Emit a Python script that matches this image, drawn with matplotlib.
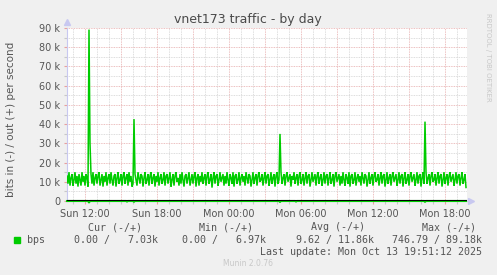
import matplotlib
matplotlib.use("Agg")
import matplotlib.pyplot as plt
import numpy as np

# ---- data (out traffic in kbit/s, one value per 5 minutes) ----
start_hour = 10 + 31 / 60.0   # Sun 10:31
step_hours = 5 / 60.0
out_kbps = [
    13, 9, 15, 8, 12, 14, 8, 11, 15, 9, 13, 7.5, 14, 11, 8, 15, 10, 13, 8, 14,
    12, 7.5, 89.18, 30, 14, 9, 15, 8, 12, 14, 9, 13, 15, 8, 11, 14, 7.5, 13, 10, 15,
    8, 12, 14, 9, 15, 11, 8, 13, 14, 7.5, 12, 15, 9, 11, 14, 8, 13, 15, 9, 12,
    14, 8, 15, 10, 13, 7.5, 9, 42.6, 14, 11, 8, 15, 12, 9, 14, 13, 7.5, 12, 15, 9,
    11, 14, 8, 13, 15, 9, 12, 14, 7.5, 13, 10, 15, 8, 12, 14, 9, 11, 15, 8, 13,
    14, 9, 12, 15, 7.5, 11, 14, 8, 13, 15, 10, 12, 8, 14, 9, 15, 11, 7.5, 13, 14,
    9, 12, 15, 8, 11, 14, 9, 13, 15, 7.5, 12, 14, 8, 13, 10, 15, 9, 12, 14, 8,
    13, 15, 9, 11, 14, 6.97, 12, 15, 9, 13, 14, 8, 11, 15, 10, 12, 14, 8, 13, 9,
    15, 11, 8, 14, 12, 9, 15, 7.5, 13, 14, 9, 11, 15, 8, 12, 14, 10, 13, 8, 15,
    12, 9, 14, 13, 7.5, 11, 15, 9, 12, 14, 8, 13, 15, 10, 11, 14, 8, 12, 15, 9,
    13, 14, 8, 11, 15, 9, 12, 14, 7.5, 13, 15, 9, 11, 34.9, 15, 9, 12, 14, 8, 13,
    15, 10, 12, 14, 7.5, 13, 11, 15, 9, 12, 14, 8, 13, 15, 9, 11, 14, 8, 12, 15,
    9, 13, 14, 7.5, 11, 15, 10, 12, 14, 8, 13, 15, 9, 12, 14, 8, 11, 15, 9, 13,
    14, 8, 12, 15, 9, 11, 14, 7.5, 13, 15, 10, 12, 14, 8, 13, 9, 15, 11, 8, 14,
    12, 9, 15, 7.5, 13, 14, 9, 11, 15, 8, 12, 14, 10, 13, 8, 15, 12, 9, 14, 13,
    7.5, 11, 15, 9, 12, 14, 8, 13, 15, 10, 11, 14, 8, 12, 15, 9, 13, 14, 7.5, 11,
    15, 9, 12, 14, 8, 13, 15, 10, 12, 14, 8, 11, 15, 9, 13, 14, 7.5, 12, 15, 9,
    11, 14, 8, 13, 15, 10, 12, 14, 8, 11, 15, 9, 13, 14, 7.5, 12, 15, 9, 41.3, 15,
    9, 12, 14, 8, 13, 15, 10, 11, 14, 8, 12, 15, 9, 13, 14, 7.5, 11, 15, 9, 12,
    14, 8, 13, 15, 10, 12, 14, 8, 11, 15, 9, 13, 14, 8, 12, 15, 9, 11, 14, 7.03,
]
# in traffic (drawn negative), bit/s, only non-zero samples
in_index = [22, 60, 67, 213, 229, 358]
in_bps = [746.79, 300, 400, 500, 300, 450]

xtick_hours = [12, 18, 24, 30, 36, 42]
xtick_labels = ["Sun 12:00", "Sun 18:00", "Mon 00:00", "Mon 06:00", "Mon 12:00", "Mon 18:00"]
ytick_values = [0, 10000, 20000, 30000, 40000, 50000, 60000, 70000, 80000, 90000]
ytick_labels = ["0", "10 k", "20 k", "30 k", "40 k", "50 k", "60 k", "70 k", "80 k", "90 k"]

legend_headers = ["Cur (-/+)", "Min (-/+)", "Avg (-/+)", "Max (-/+)"]
legend_values = ["0.00 /   7.03k", "0.00 /   6.97k", "9.62 / 11.86k", "746.79 / 89.18k"]

# ---- figure ----
W, H = 497, 275
BG = "#F0F0F0"
GREEN = "#00CC00"
fig = plt.figure(figsize=(W / 100, H / 100), dpi=100, facecolor=BG)
ax = fig.add_axes([67 / W, (H - 201) / H, 400 / W, 173 / H])
ax.set_facecolor("white")

n = len(out_kbps)
x = start_hour + np.arange(n) * step_hours
out = np.array(out_kbps) * 1000.0
inn = np.zeros(n)
inn[in_index] = -np.array(in_bps)

ax.set_xlim(start_hour, start_hour + n * step_hours)
ax.set_ylim(0, 90000)

ax.set_xticks(xtick_hours)
ax.set_xticklabels(xtick_labels)
ax.set_xticks(np.arange(11, 44, 1), minor=True)
ax.set_yticks(ytick_values)
ax.set_yticklabels(ytick_labels)
ax.set_yticks(np.arange(5000, 90000, 10000), minor=True)

dot = (0, (1, 1))
for h in np.arange(11, 44, 1):
    major = (h % 3 == 0)
    ax.axvline(h, color="#E6AAAA" if major else "#D2D2D2", lw=0.6, ls=dot, zorder=1)
for v in np.arange(5000, 90001, 5000):
    major = (v % 10000 == 0)
    ax.axhline(v, color="#E6AAAA" if major else "#D2D2D2", lw=0.6, ls=dot, zorder=1)

ax.plot(x, out, color=GREEN, lw=1.1, zorder=3, solid_joinstyle="miter")
ax.plot(x, inn, color=GREEN, lw=1.5, zorder=3, clip_on=False)
ax.axhline(0, color="black", lw=1.5, zorder=4)

for s in ["top", "right"]:
    ax.spines[s].set_visible(False)
ax.spines["left"].set_color("#C8C8F0")
ax.spines["bottom"].set_color("#C8C8F0")
ax.spines["left"].set_linewidth(0.8)
ax.spines["bottom"].set_linewidth(0.8)
ax.plot([0], [1.035], marker="^", ms=4, color="#C8C8F0", transform=ax.transAxes, clip_on=False)
ax.plot([1.01], [0], marker=">", ms=4, color="#C8C8F0", transform=ax.transAxes, clip_on=False)

ax.tick_params(axis="both", which="major", length=2, width=0.8, color="#E8A0A0",
               labelsize=7, labelcolor="#555555", pad=3)
ax.tick_params(axis="both", which="minor", length=2, width=0.8, color="#C8C8C8")
ax.tick_params(axis="x", which="major", pad=4)

def ftext(px, py, s, **kw):
    fig.text(px / W, 1 - py / H, s, **kw)

ftext(248, 19, "vnet173 traffic - by day", ha="center", va="center",
      fontsize=9, color="#4a4a4a")
ftext(11, 119, "bits in (-) / out (+) per second", ha="center", va="center",
      rotation=90, fontsize=7.5, color="#555555")
ftext(488, 57, "RRDTOOL / TOBI OETIKER", ha="center", va="center",
      rotation=270, fontsize=5, color="#C8C8C8")

mono = dict(family="DejaVu Sans Mono", fontsize=7.2, color="#555555", va="center")
for xe, s in zip([142, 253, 365, 476], legend_headers):
    ftext(xe, 227, s, ha="right", **mono)
fig.patches.append(plt.Rectangle((14 / W, 1 - 243 / H), 6 / W, 6 / H,
                                 transform=fig.transFigure, color=GREEN))
ftext(27, 240, "bps", ha="left", **mono)
for xe, s in zip([158, 266, 374, 482], legend_values):
    ftext(xe, 240, s, ha="right", **mono)
ftext(482, 252, "Last update: Mon Oct 13 19:51:12 2025", ha="right", **mono)
ftext(248, 264, "Munin 2.0.76", ha="center", va="center", fontsize=5.5, color="#C8C8C8")

fig.savefig("out.png", dpi=100, facecolor=BG)
